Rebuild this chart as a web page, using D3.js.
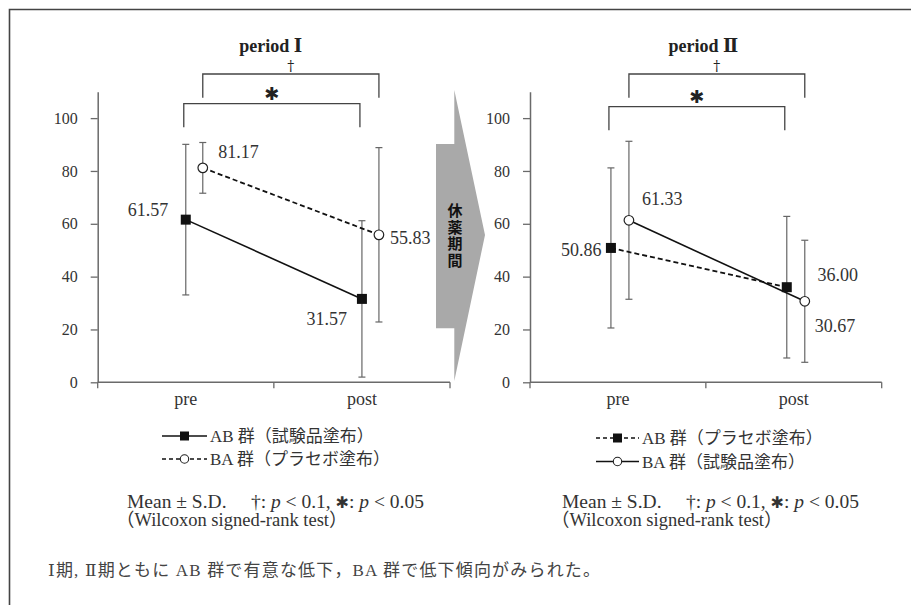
<!DOCTYPE html>
<html>
<head>
<meta charset="utf-8">
<script src="https://cdn.jsdelivr.net/npm/d3@7/dist/d3.min.js"></script>
<style>
  html, body { margin: 0; padding: 0; background: #fff; }
  svg { display: block; }
  .serif { font-family: 'Liberation Serif', 'DejaVu Serif', 'Noto Sans CJK JP', serif; }
</style>
</head>
<body>
<svg id="chart" width="911" height="605"></svg>
<script>
// ---- data ----
const phases = ["pre", "post"];
const yTicks = [0, 20, 40, 60, 80, 100];

// period I
const p1AB = [61.57, 31.57];
const p1ABsd = [28.5, 29.6];
const p1BA = [81.17, 55.83];
const p1BAsd = [9.6, 33.0];

// period II
const p2AB = [50.86, 36.00];
const p2ABsd = [30.3, 26.8];
const p2BA = [61.33, 30.67];
const p2BAsd = [29.9, 23.1];

const titles = ["period Ⅰ", "period Ⅱ"];
const legend1 = ["AB 群（試験品塗布）", "BA 群（プラセボ塗布）"];
const legend2 = ["AB 群（プラセボ塗布）", "BA 群（試験品塗布）"];
const footer = "Ⅰ期, Ⅱ期ともに AB 群で有意な低下，BA 群で低下傾向がみられた。";

const SERIF = "'Liberation Serif', 'DejaVu Serif', serif";
const svg = d3.select("#chart");
const axisCol = "#6a6a6a";

// frame
svg.append("path")
  .attr("d", "M9.5,606 L9.5,9.5 L912,9.5")
  .attr("fill", "none").attr("stroke", "#444").attr("stroke-width", 1.6);

const y = d3.scaleLinear().domain([0, 110]).range([382.3, 91.7]);

// break-period arrow between the panels
svg.append("polygon")
  .attr("points", [[436,144],[454.3,144],[454.3,90],[485,235],[454.3,381],[454.3,328.3],[436,328.3]].map(p => p.join(",")).join(" "))
  .attr("fill", "#a9a9a9");
svg.append("text")
  .attr("x", 455).attr("y", 203)
  .attr("writing-mode", "vertical-rl")
  .attr("letter-spacing", 1.5)
  .attr("font-family", "'Noto Sans CJK JP', sans-serif")
  .attr("font-weight", 700).attr("font-size", 15).attr("fill", "#111")
  .text("休薬期間");

function panel(cfg) {
  const x = d3.scaleBand().domain(phases).range([cfg.x0, cfg.x1]).padding(0);
  const g = svg.append("g");
  const cx = (p, off) => x(p) + x.bandwidth() / 2 + off;

  // y axis
  const yAxis = d3.axisLeft(y).tickValues(yTicks).tickSize(7).tickPadding(13).tickSizeOuter(0);
  const ya = g.append("g").attr("transform", `translate(${cfg.x0},0)`).call(yAxis);
  ya.attr("font-family", SERIF);
  ya.select(".domain").attr("stroke", axisCol).attr("stroke-width", 1.5);
  ya.selectAll(".tick line").attr("stroke", axisCol).attr("stroke-width", 1.3);
  ya.selectAll(".tick text").attr("font-size", 16).attr("fill", "#333");

  // x axis with ticks on band edges
  const xa = g.append("g").attr("transform", `translate(0,${y(0)})`);
  xa.append("line").attr("x1", cfg.x0).attr("x2", cfg.x1)
    .attr("stroke", axisCol).attr("stroke-width", 1.5);
  const edges = [cfg.x0, x("post"), cfg.x1];
  xa.selectAll("line.edge").data(edges).join("line").attr("class", "edge")
    .attr("x1", d => d).attr("x2", d => d).attr("y1", 0).attr("y2", 6)
    .attr("stroke", axisCol).attr("stroke-width", 1.3);
  xa.selectAll("text").data(phases).join("text")
    .attr("x", d => cx(d, 0)).attr("y", 23)
    .attr("text-anchor", "middle")
    .attr("font-family", SERIF).attr("font-size", 18).attr("fill", "#333")
    .text(d => d);

  // title
  g.append("text").attr("x", cfg.titleX).attr("y", 52)
    .attr("text-anchor", "middle").attr("font-family", SERIF)
    .attr("font-weight", 700).attr("font-size", 18).attr("fill", "#222")
    .text(cfg.title);

  // significance brackets
  function bracket(xa1, xa2, top, bottom, sym, symY, size, fam, weight) {
    g.append("path")
      .attr("d", `M${xa1},${bottom} L${xa1},${top} L${xa2},${top} L${xa2},${bottom}`)
      .attr("fill", "none").attr("stroke", "#444").attr("stroke-width", 1.3);
    g.append("text").attr("x", (xa1 + xa2) / 2).attr("y", symY)
      .attr("text-anchor", "middle").attr("font-size", size).attr("fill", "#222")
      .attr("font-family", fam).attr("font-weight", weight)
      .text(sym);
  }
  bracket(cx("pre", cfg.ciOff), cx("post", cfg.ciOff), 74, 97.7, "†", 70.5, 14, "'DejaVu Serif', serif", 400);
  bracket(cx("pre", cfg.sqOff) - 2, cx("post", cfg.sqOff) - 2, cfg.starTop, cfg.starTop + 23.5,
    "✱", cfg.starTop - 3.5, 18, "'DejaVu Sans', sans-serif", 700);

  // error bars
  cfg.series.forEach(s => {
    const off = s.shape === "square" ? cfg.sqOff : cfg.ciOff;
    phases.forEach((p, i) => {
      const px = cx(p, off);
      const yt = y(s.values[i] + s.sd[i]), yb = y(Math.max(0, s.values[i] - s.sd[i]));
      g.append("line").attr("x1", px).attr("x2", px).attr("y1", yt).attr("y2", yb)
        .attr("stroke", "#666").attr("stroke-width", 1.2);
      [yt, yb].forEach(yy => g.append("line").attr("x1", px - 3.5).attr("x2", px + 3.5)
        .attr("y1", yy).attr("y2", yy).attr("stroke", "#666").attr("stroke-width", 1.2));
    });
  });
  // connecting lines
  cfg.series.forEach(s => {
    const off = s.shape === "square" ? cfg.sqOff : cfg.ciOff;
    const pts = phases.map((p, i) => ({ v: s.values[i], x: cx(p, off) }));
    g.append("path")
      .attr("d", d3.line().x(d => d.x).y(d => y(d.v))(pts))
      .attr("fill", "none").attr("stroke", "#111")
      .attr("stroke-width", s.dashed ? 1.8 : 1.6)
      .attr("stroke-dasharray", s.dashed ? "5,3" : null);
  });
  // markers and value labels
  cfg.series.forEach(s => {
    const off = s.shape === "square" ? cfg.sqOff : cfg.ciOff;
    phases.forEach((p, i) => {
      const px = cx(p, off), py = y(s.values[i]);
      if (s.shape === "square") {
        g.append("rect").attr("x", px - 5).attr("y", py - 5).attr("width", 10).attr("height", 10)
          .attr("fill", "#111");
      } else {
        g.append("circle").attr("cx", px).attr("cy", py).attr("r", 4.8)
          .attr("fill", "#fff").attr("stroke", "#222").attr("stroke-width", 1.2);
      }
      const lb = s.labels[i];
      g.append("text").attr("x", px + lb.dx).attr("y", py + lb.dy + 6)
        .attr("text-anchor", lb.anchor)
        .attr("font-family", SERIF).attr("font-size", 18).attr("fill", "#333")
        .text(s.values[i].toFixed(2));
    });
  });

  // legend
  const lg = g.append("g");
  cfg.legend.forEach((row, i) => {
    const yy = cfg.legY[i];
    lg.append("line").attr("x1", cfg.legX0).attr("x2", cfg.legX1).attr("y1", yy).attr("y2", yy)
      .attr("stroke", "#111").attr("stroke-width", 1.5)
      .attr("stroke-dasharray", row.dashed ? "4,3" : null);
    const mx = (cfg.legX0 + cfg.legX1) / 2;
    if (row.shape === "square") {
      lg.append("rect").attr("x", mx - 4.5).attr("y", yy - 4.5).attr("width", 9).attr("height", 9).attr("fill", "#111");
    } else {
      lg.append("circle").attr("cx", mx).attr("cy", yy).attr("r", 4.2)
        .attr("fill", "#fff").attr("stroke", "#222").attr("stroke-width", 1.1);
    }
    lg.append("text").attr("x", cfg.legX1 + 3).attr("y", yy + 6)
      .attr("class", "serif").attr("font-size", 17).attr("fill", "#333")
      .text(row.text);
  });

  // notes
  const n1 = g.append("text").attr("x", cfg.noteX).attr("y", 508)
    .attr("class", "serif").attr("font-size", 19.5).attr("fill", "#333");
  n1.append("tspan").text("Mean ± S.D.　 †: ");
  n1.append("tspan").attr("font-style", "italic").text("p");
  n1.append("tspan").text(" < 0.1,  ");
  n1.append("tspan").attr("font-family", "'DejaVu Sans', sans-serif").attr("font-weight", 700).attr("font-size", 16).text("✱");
  n1.append("tspan").text(": ");
  n1.append("tspan").attr("font-style", "italic").text("p");
  n1.append("tspan").text(" < 0.05");
  g.append("text").attr("x", cfg.noteX - 11).attr("y", 526)
    .attr("class", "serif").attr("font-size", 18.5).attr("fill", "#333")
    .text("（Wilcoxon signed-rank test）");
}

panel({
  x0: 97.7, x1: 450, sqOff: 0, ciOff: 17, titleX: 270.7, title: titles[0], starTop: 103.7,
  series: [
    { values: p1AB, sd: p1ABsd, shape: "square", dashed: false,
      labels: [{ dx: -17.5, dy: -10, anchor: "end" }, { dx: -15, dy: 20.5, anchor: "end" }] },
    { values: p1BA, sd: p1BAsd, shape: "circle", dashed: true,
      labels: [{ dx: 15.5, dy: -16, anchor: "start" }, { dx: 11, dy: 3, anchor: "start" }] }
  ],
  legend: [
    { text: legend1[0], shape: "square", dashed: false },
    { text: legend1[1], shape: "circle", dashed: true }
  ],
  legX0: 162, legX1: 207, legY: [436, 459], noteX: 127
});

panel({
  x0: 530, x1: 881.7, sqOff: -7, ciOff: 11, titleX: 703.3, title: titles[1], starTop: 106.7,
  series: [
    { values: p2AB, sd: p2ABsd, shape: "square", dashed: true,
      labels: [{ dx: -9.5, dy: 2, anchor: "end" }, { dx: 30.7, dy: -12, anchor: "start" }] },
    { values: p2BA, sd: p2BAsd, shape: "circle", dashed: false,
      labels: [{ dx: 13, dy: -21, anchor: "start" }, { dx: 10, dy: 24.4, anchor: "start" }] }
  ],
  legend: [
    { text: legend2[0], shape: "square", dashed: true },
    { text: legend2[1], shape: "circle", dashed: false }
  ],
  legX0: 596, legX1: 639, legY: [438, 461.5], noteX: 562
});

// summary line
svg.append("text").attr("x", 48).attr("y", 576)
  .attr("class", "serif").attr("font-size", 17).attr("fill", "#444")
  .attr("textLength", 552).attr("lengthAdjust", "spacing")
  .text(footer);
</script>
</body>
</html>
